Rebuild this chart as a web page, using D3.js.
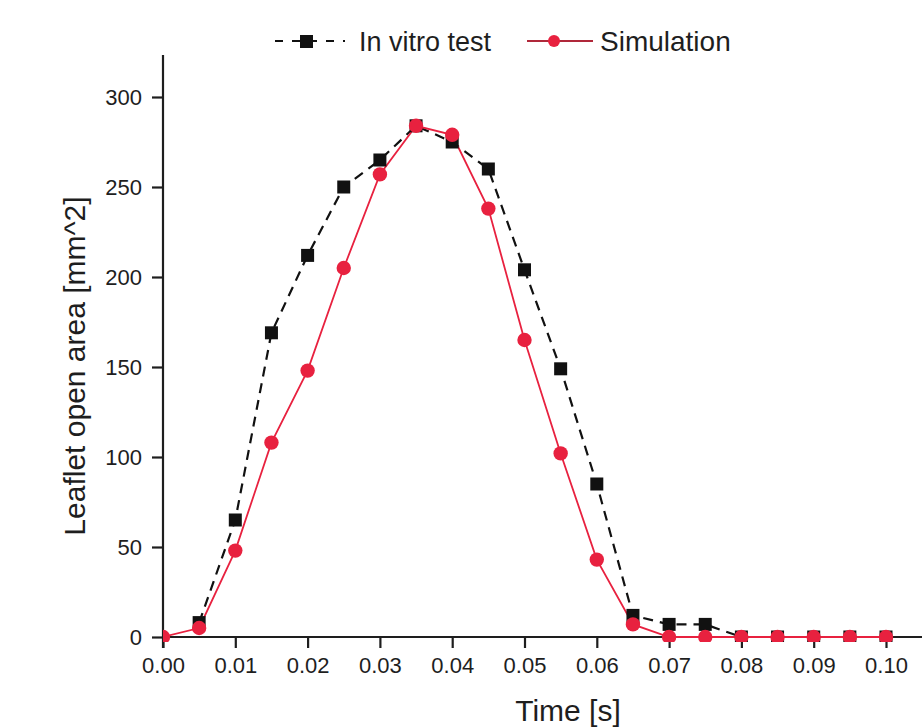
<!DOCTYPE html>
<html><head><meta charset="utf-8">
<script src="https://cdn.jsdelivr.net/npm/d3@7/dist/d3.min.js"></script>
<style>body{margin:0;background:#fff}svg{display:block}text{font-family:"Liberation Sans",Arial,sans-serif}</style>
</head><body><svg id="c" width="922" height="727"></svg>
<script>
const times = [0,0.005,0.01,0.015,0.02,0.025,0.03,0.035,0.04,0.045,0.05,0.055,0.06,0.065,0.07,0.075,0.08,0.085,0.09,0.095,0.10];
const invitro = [null,8,65,169,212,250,265,284,275,260,204,149,85,12,7,7,0,0,0,0,0];
const simulation = [0,5,48,108,148,205,257,284,279,238,165,102,43,7,0,0,0,0,0,0,0];
const xTicks = [0,0.01,0.02,0.03,0.04,0.05,0.06,0.07,0.08,0.09,0.10];
const yTicks = [0,50,100,150,200,250,300];
const seriesNames = ["In vitro test","Simulation"];

const svg = d3.select("#c");
const x = d3.scaleLinear().domain([0,0.1]).range([163,886]);
const y = d3.scaleLinear().domain([0,300]).range([637,97]);
const red = "#e8213f";
const ink = "#1e1e1e";

// axes
const xAxis = svg.append("g").attr("transform","translate(0,637)")
  .call(d3.axisBottom(x).tickValues(xTicks).tickFormat(d3.format(".2f")).tickSize(11).tickSizeOuter(0));
xAxis.select(".domain").attr("d","M163,0H922");
const yAxis = svg.append("g").attr("transform","translate(163,0)")
  .call(d3.axisLeft(y).tickValues(yTicks).tickSize(11).tickSizeOuter(0));
yAxis.select(".domain").attr("d","M0,55V648");
svg.selectAll(".domain").attr("stroke",ink).attr("stroke-width",2.2);
svg.selectAll(".tick line").attr("stroke",ink).attr("stroke-width",2.2);
xAxis.selectAll(".tick text").attr("font-size",22).attr("fill",ink).attr("y",36).attr("dy",0);
yAxis.selectAll(".tick text").attr("font-size",22).attr("fill",ink).attr("x",-21).attr("dy","0.34em");

svg.append("text").attr("x",568).attr("y",721).attr("text-anchor","middle").attr("font-size",30).attr("fill",ink).text("Time [s]");
svg.append("text").attr("transform","translate(85,366) rotate(-90)").attr("text-anchor","middle").attr("font-size",30).attr("fill",ink).text("Leaflet open area [mm^2]");

// clip
svg.append("clipPath").attr("id","clip").append("rect").attr("x",163).attr("y",40).attr("width",759).attr("height",602);
const plot = svg.append("g").attr("clip-path","url(#clip)");

const line = d3.line().defined(d=>d.v!=null).x(d=>x(d.t)).y(d=>y(d.v));
const pts = arr => arr.map((v,i)=>({t:times[i],v:v}));
plot.append("path").attr("d",line(pts(invitro))).attr("fill","none").attr("stroke","#111").attr("stroke-width",2.2).attr("stroke-dasharray","10,7");
plot.append("path").attr("d",line(pts(simulation))).attr("fill","none").attr("stroke",red).attr("stroke-width",1.8);

plot.selectAll(".sq").data(pts(invitro).filter(d=>d.v!=null)).enter().append("rect")
  .attr("x",d=>x(d.t)-6.5).attr("y",d=>y(d.v)-6.5).attr("width",13).attr("height",13).attr("fill","#111");
plot.selectAll(".ci").data(pts(simulation)).enter().append("circle")
  .attr("cx",d=>x(d.t)).attr("cy",d=>y(d.v)).attr("r",7.2).attr("fill",red);

// legend
const lg = svg.append("g");
lg.append("line").attr("x1",275).attr("x2",345).attr("y1",41).attr("y2",41).attr("stroke","#111").attr("stroke-width",2.2).attr("stroke-dasharray","8,9");
lg.append("rect").attr("x",300).attr("y",35).attr("width",13).attr("height",13).attr("fill","#111");
lg.append("text").attr("x",359).attr("y",51).attr("font-size",27).attr("fill",ink).text(seriesNames[0]);
lg.append("line").attr("x1",527).attr("x2",593).attr("y1",41).attr("y2",41).attr("stroke","#b0283a").attr("stroke-width",2);
lg.append("circle").attr("cx",554).attr("cy",41).attr("r",6).attr("fill",red);
lg.append("text").attr("x",600).attr("y",51).attr("font-size",28).attr("fill",ink).text(seriesNames[1]);
</script></body></html>
